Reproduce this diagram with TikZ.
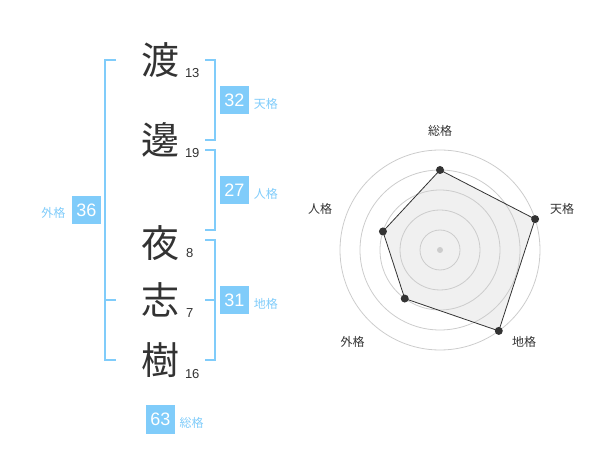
\documentclass[tikz,border=0pt]{standalone}
\usepackage{fontspec}
\setmainfont{Liberation Sans}
\newfontfamily\jp{Noto Sans CJK JP}
\usetikzlibrary{positioning}
\definecolor{kakublue}{HTML}{80CCFA}
\definecolor{inkgray}{HTML}{333333}
\definecolor{ringgray}{HTML}{CCCCCC}
\definecolor{polyfill}{HTML}{F0F0F0}

\begin{document}
\begin{tikzpicture}[x=1pt,y=-1pt,inner sep=0pt,outer sep=0pt,
kanji/.style={text=inkgray,font=\jp\fontsize{38}{38}\selectfont},
strokes/.style={anchor=base west,text=inkgray,font=\fontsize{13}{13}\selectfont},
kakubox/.style={fill=kakublue,text=white,minimum size=28.5pt,font=\fontsize{18}{18}\selectfont},
kakuname/.style={text=kakublue,font=\jp\fontsize{12}{12}\selectfont},
bracket/.style={draw=kakublue,line width=2pt},
axisname/.style={text=inkgray,font=\jp\fontsize{12}{12}\selectfont}]

\useasboundingbox (0,0) rectangle (600,470);

% name and stroke counts
\node[kanji] (c1) at (160,60) {渡};
\node[kanji] (c2) at (160,140) {邊};
\node[kanji] (c3) at (160,243) {夜};
\node[kanji] (c4) at (160,300) {志};
\node[kanji] (c5) at (160,360) {樹};
\node[strokes] (n1) at (185,77.5) {13};
\node[strokes] (n2) at (185,157.5) {19};
\node[strokes] (n3) at (186,258) {8};
\node[strokes] (n4) at (186,318) {7};
\node[strokes] (n5) at (185,378) {16};

% brackets
\draw[bracket] (116,60) -| (105,360) -- (116,360);
\draw[bracket] (105,300) -- (116,300);
\draw[bracket] (205,60) -| (215,140) -- (205,140);
\draw[bracket] (205,150) -| (215,230) -- (205,230);
\draw[bracket] (205,240) -| (215,360) -- (205,360);
\draw[bracket] (215,300) -- (205,300);

% totals
\node[kakubox] (ten) at (234.5,100) {32};
\node[kakuname,right=5pt of ten,yshift=-4pt] (tenl) {天格};
\node[kakubox] (jin) at (234.5,190) {27};
\node[kakuname,right=5pt of jin,yshift=-4pt] (jinl) {人格};
\node[kakubox] (chi) at (234.5,300) {31};
\node[kakuname,right=5pt of chi,yshift=-4pt] (chil) {地格};
\node[kakubox] (gai) at (86.5,210) {36};
\node[kakuname,left=7pt of gai,yshift=-3pt] (gail) {外格};
\node[kakubox] (sou) at (160.3,419.3) {63};
\node[kakuname,right=5pt of sou,yshift=-3.5pt] (soul) {総格};

% radar
\begin{scope}[shift={(440,250)},y=1pt]
\coordinate (p1) at (90:80);
\coordinate (p2) at (18:100);
\coordinate (p3) at (-54:100);
\coordinate (p4) at (-126:60);
\coordinate (p5) at (162:60);
\fill[polyfill] (p1) -- (p2) -- (p3) -- (p4) -- (p5) -- cycle;
\foreach \r in {20,40,...,100}
  \draw[ringgray,line width=0.8pt] (0,0) circle (\r pt);
\fill[ringgray] (0,0) circle (3pt);
\draw[inkgray,line width=0.8pt] (p1) -- (p2) -- (p3) -- (p4) -- (p5) -- cycle;
\foreach \i in {1,...,5}
  \fill[inkgray] (p\i) circle (4pt);
\node[axisname] (a1) at (0,119.3) {総格};
\node[axisname] (a2) at (122,41.3) {天格};
\node[axisname] (a3) at (84,-92.3) {地格};
\node[axisname] (a4) at (-87.3,-92.3) {外格};
\node[axisname] (a5) at (-120,41.3) {人格};
\end{scope}

\end{tikzpicture}
\end{document}
